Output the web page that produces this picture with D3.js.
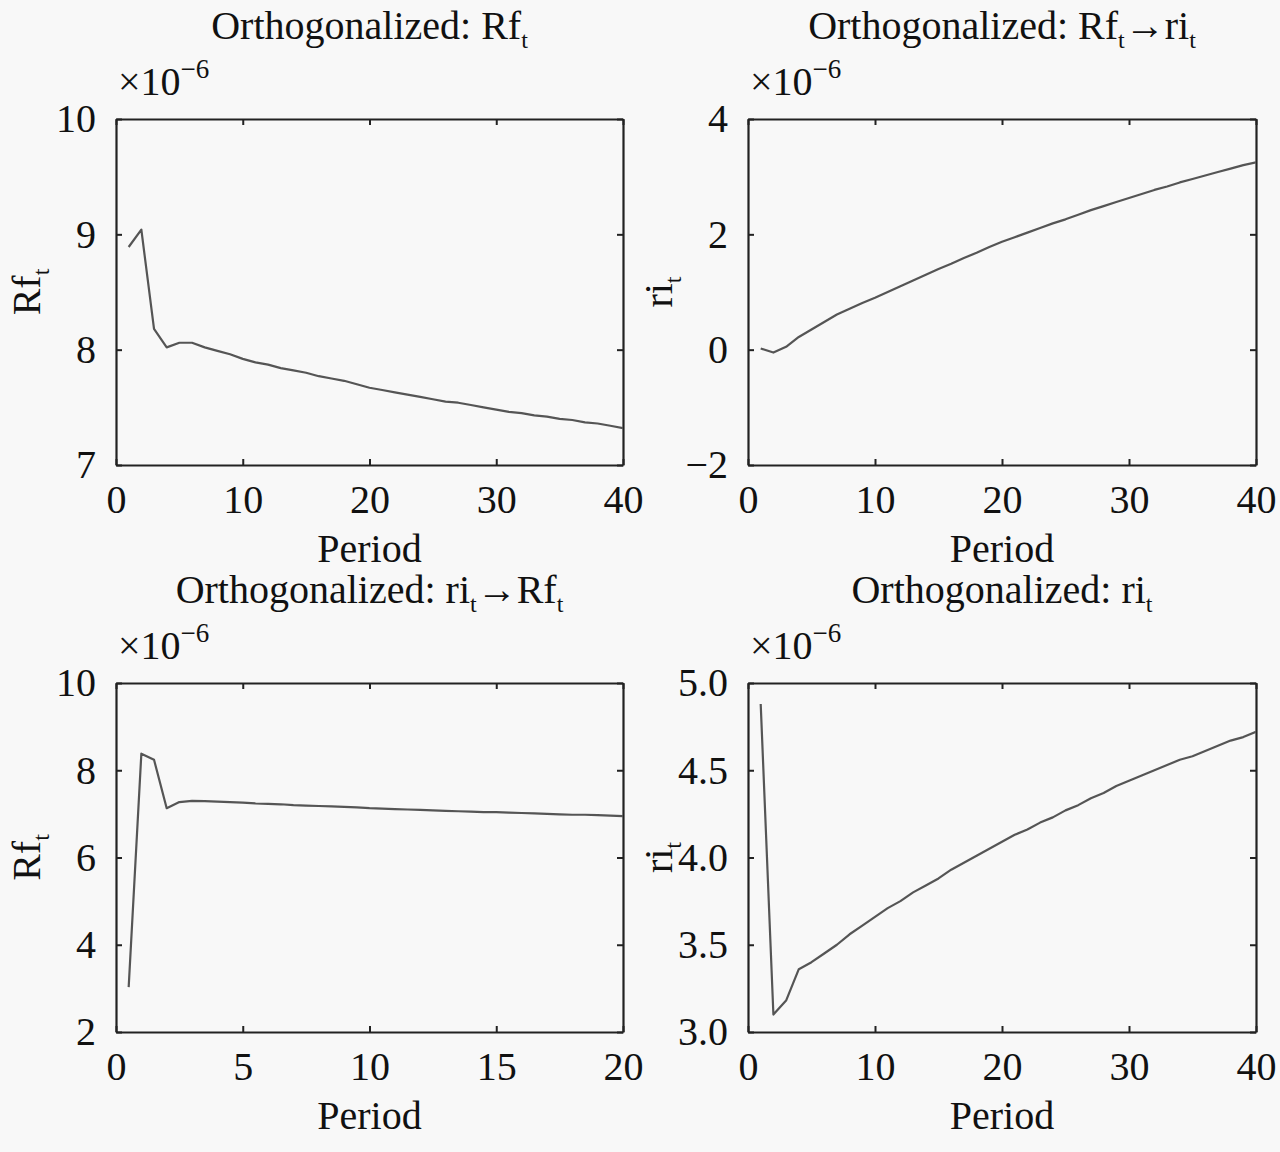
<!DOCTYPE html>
<html>
<head>
<meta charset="utf-8">
<script src="https://cdn.jsdelivr.net/npm/d3@7"></script>
<style>
  html, body { margin: 0; padding: 0; background: #f8f8f8; }
  svg text { font-family: "Liberation Serif", "Times New Roman", serif; fill: #111; }
  .axis path, .axis line { stroke: #222; }
</style>
</head>
<body>
<div id="chart"></div>
<script>
// periods (x) for the 40-step impulse responses
const periods = d3.range(1, 41);
// bottom-left panel is drawn against half periods 0.5 .. 20
const halfPeriods = periods.map(p => p / 2);

// values, in units of 1e-6
const rfOwn = [8.89, 9.04, 8.18, 8.02, 8.06, 8.06, 8.02, 7.99, 7.96, 7.92,
  7.89, 7.87, 7.84, 7.82, 7.80, 7.77, 7.75, 7.73, 7.70, 7.67,
  7.65, 7.63, 7.61, 7.59, 7.57, 7.55, 7.54, 7.52, 7.50, 7.48,
  7.46, 7.45, 7.43, 7.42, 7.40, 7.39, 7.37, 7.36, 7.34, 7.32];

const rfToRi = [0.02, -0.05, 0.05, 0.22, 0.35, 0.48, 0.61, 0.71, 0.81, 0.90,
  1.00, 1.10, 1.20, 1.30, 1.40, 1.49, 1.59, 1.68, 1.78, 1.87,
  1.95, 2.03, 2.11, 2.19, 2.26, 2.34, 2.42, 2.49, 2.56, 2.63,
  2.70, 2.77, 2.83, 2.90, 2.96, 3.02, 3.08, 3.14, 3.20, 3.25];

const riToRf = [3.03, 8.38, 8.24, 7.13, 7.27, 7.30, 7.29, 7.28, 7.27, 7.26,
  7.24, 7.23, 7.22, 7.20, 7.19, 7.18, 7.17, 7.16, 7.15, 7.13,
  7.12, 7.11, 7.10, 7.09, 7.08, 7.07, 7.06, 7.05, 7.04, 7.04,
  7.03, 7.02, 7.01, 7.00, 6.99, 6.98, 6.98, 6.97, 6.96, 6.95];

const riOwn = [4.88, 3.10, 3.18, 3.36, 3.40, 3.45, 3.50, 3.56, 3.61, 3.66,
  3.71, 3.75, 3.80, 3.84, 3.88, 3.93, 3.97, 4.01, 4.05, 4.09,
  4.13, 4.16, 4.20, 4.23, 4.27, 4.30, 4.34, 4.37, 4.41, 4.44,
  4.47, 4.50, 4.53, 4.56, 4.58, 4.61, 4.64, 4.67, 4.69, 4.72];

// tick values
const xTicks40 = [0, 10, 20, 30, 40];
const xTicks20 = [0, 5, 10, 15, 20];
const yTicksRf = [7, 8, 9, 10];
const yTicksRi = [-2, 0, 2, 4];
const yTicksRf2 = [2, 4, 6, 8, 10];
const yTicksRi2 = [3.0, 3.5, 4.0, 4.5, 5.0];

const W = 1280, H = 1152;
const svg = d3.select("#chart").append("svg")
  .attr("width", W).attr("height", H)
  .attr("viewBox", `0 0 ${W} ${H}`);

const FONT = 40, SUB = 24;

// title / label pieces: [text, isSubscript]
const panels = [
  { x0: 116, x1: 623, y0: 119, y1: 465, xs: periods, ys: rfOwn,
    xDomain: [0, 40], xTicks: xTicks40, yDomain: [7, 10], yTicks: yTicksRf, yFmt: d3.format("d"),
    title: [["Orthogonalized: Rf", 0], ["t", 1]], ylab: [["Rf", 0], ["t", 1]] },
  { x0: 748, x1: 1256, y0: 119, y1: 465, xs: periods, ys: rfToRi,
    xDomain: [0, 40], xTicks: xTicks40, yDomain: [-2, 4], yTicks: yTicksRi, yFmt: d => d < 0 ? "\u2212" + Math.abs(d) : String(d),
    title: [["Orthogonalized: Rf", 0], ["t", 1], ["\u2192ri", 0], ["t", 1]], ylab: [["ri", 0], ["t", 1]] },
  { x0: 116, x1: 623, y0: 683, y1: 1032, xs: halfPeriods, ys: riToRf,
    xDomain: [0, 20], xTicks: xTicks20, yDomain: [2, 10], yTicks: yTicksRf2, yFmt: d3.format("d"),
    title: [["Orthogonalized: ri", 0], ["t", 1], ["\u2192Rf", 0], ["t", 1]], ylab: [["Rf", 0], ["t", 1]] },
  { x0: 748, x1: 1256, y0: 683, y1: 1032, xs: periods, ys: riOwn,
    xDomain: [0, 40], xTicks: xTicks40, yDomain: [3, 5], yTicks: yTicksRi2, yFmt: d3.format(".1f"),
    title: [["Orthogonalized: ri", 0], ["t", 1]], ylab: [["ri", 0], ["t", 1]] }
];

// writes pieces with subscripts into a text element
function richText(sel, pieces) {
  let sub = false;
  pieces.forEach(([t, isSub]) => {
    const ts = sel.append("tspan").text(t);
    if (isSub && !sub) { ts.attr("font-size", SUB).attr("dy", 9); sub = true; }
    else if (!isSub && sub) { ts.attr("font-size", FONT).attr("dy", -9); sub = false; }
  });
}

panels.forEach((p, i) => {
  const g = svg.append("g");
  const x = d3.scaleLinear().domain(p.xDomain).range([p.x0, p.x1]);
  const y = d3.scaleLinear().domain(p.yDomain).range([p.y1, p.y0]);
  const cx = (p.x0 + p.x1) / 2, cy = (p.y0 + p.y1) / 2;

  // axes with inward ticks, box on
  const bottom = g.append("g").attr("class", "axis").attr("transform", `translate(0,${p.y1})`)
    .call(d3.axisBottom(x).tickValues(p.xTicks).tickSizeInner(-6).tickSizeOuter(0).tickPadding(20));
  const left = g.append("g").attr("class", "axis").attr("transform", `translate(${p.x0},0)`)
    .call(d3.axisLeft(y).tickValues(p.yTicks).tickFormat(p.yFmt).tickSizeInner(-6).tickSizeOuter(0).tickPadding(20));
  g.append("g").attr("class", "axis").attr("transform", `translate(0,${p.y0})`)
    .call(d3.axisTop(x).tickValues(p.xTicks).tickFormat("").tickSizeInner(-6).tickSizeOuter(0));
  g.append("g").attr("class", "axis").attr("transform", `translate(${p.x1},0)`)
    .call(d3.axisRight(y).tickValues(p.yTicks).tickFormat("").tickSizeInner(-6).tickSizeOuter(0));

  g.selectAll(".axis path").attr("stroke-width", 2.2);
  g.selectAll(".axis line").attr("stroke-width", 2);
  g.selectAll(".axis text").attr("font-size", FONT)
    .attr("font-family", '"Liberation Serif", serif').attr("fill", "#111");

  // the response line
  const clipId = "clip" + i;
  g.append("clipPath").attr("id", clipId).append("rect")
    .attr("x", p.x0).attr("y", p.y0).attr("width", p.x1 - p.x0).attr("height", p.y1 - p.y0);
  const line = d3.line().x((d, k) => x(p.xs[k])).y(d => y(d));
  g.append("path").datum(p.ys)
    .attr("clip-path", `url(#${clipId})`)
    .attr("fill", "none").attr("stroke", "#555").attr("stroke-width", 2.2)
    .attr("stroke-linejoin", "round").attr("d", line);

  // title
  const title = g.append("text").attr("x", cx).attr("y", p.y0 - 80)
    .attr("text-anchor", "middle").attr("font-size", FONT);
  richText(title, p.title);

  // exponent marker
  const ex = g.append("text").attr("x", p.x0 + 2).attr("y", p.y0 - 24).attr("font-size", FONT);
  ex.append("tspan").text("\u00d710");
  ex.append("tspan").attr("font-size", 27).attr("dy", -17).text("\u22126");

  // x label
  g.append("text").attr("x", cx).attr("y", p.y1 + 97)
    .attr("text-anchor", "middle").attr("font-size", FONT).text("Period");

  // y label
  const yl = g.append("text")
    .attr("transform", `translate(${p.x0 - 76},${cy}) rotate(-90)`)
    .attr("text-anchor", "middle").attr("font-size", FONT);
  richText(yl, p.ylab);
});
</script>
</body>
</html>
